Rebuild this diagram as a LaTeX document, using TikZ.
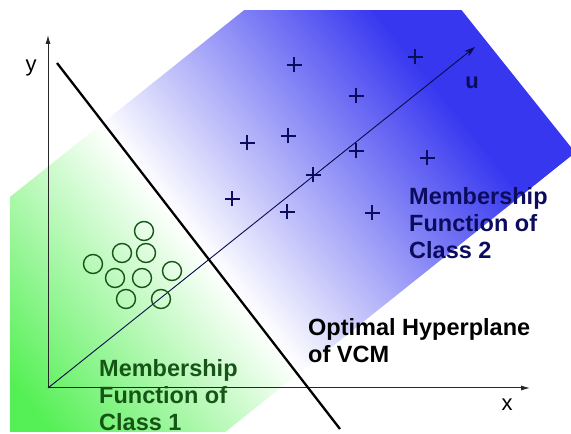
\documentclass[tikz,border=0pt]{standalone}
\usepackage{fontspec}
\setsansfont{Liberation Sans}
\usetikzlibrary{arrows.meta}
\definecolor{leafgreen}{RGB}{85,240,85}
\definecolor{deepblue}{RGB}{55,55,240}
\definecolor{navy}{RGB}{12,12,95}
\definecolor{forest}{RGB}{22,85,22}

\begin{document}
\begin{tikzpicture}[x=1pt,y=1pt,font=\sffamily,>={Latex[length=9pt,width=5pt]},
  axis/.style={->,line width=1pt,draw=black!85},
  axislabel/.style={font=\sffamily\fontsize{22}{26}\selectfont,inner sep=0pt},
  caption/.style={anchor=north west,align=left,inner sep=0pt,
    font=\sffamily\bfseries\fontsize{23.5}{27}\selectfont},
  ring/.style={line width=1.4pt,draw=forest},
  cross/.style={line width=1.3pt,draw=navy}]
  \useasboundingbox (0,0) rectangle (571,434);

  % Membership band, green -> white -> blue along u
  \begin{scope}
    \clip (10,2) rectangle (571,423);
    \begin{scope}[transform canvas={shift={(48,46)},rotate=38.6}]
      \fill[leafgreen] (-90,-145) rectangle (-24,173);
      \shade[left color=leafgreen,right color=white]
        (-25,-145) rectangle (207,173);
      \shade[left color=white,right color=deepblue]
        (206,-145) rectangle (491,173);
      \fill[deepblue] (490,-145) rectangle (559,173);
    \end{scope}
  \end{scope}

  % Axes
  \coordinate (O) at (48,46);
  \coordinate (xend) at (530,46);
  \coordinate (yend) at (48,399);
  \coordinate (uend) at (475,387);
  \draw[axis] (O) -- (xend);
  \draw[axis] (O) -- (yend);
  \draw[->,line width=0.9pt,draw=navy!80!black,
        >={Stealth[length=11pt,width=7pt]}] (O) -- (uend);
  \node[axislabel] (ylab) at (31,366) {y};
  \node[axislabel] (xlab) at (507,29) {x};
  \node[axislabel,font=\sffamily\bfseries\fontsize{22}{26}\selectfont,
        text=navy] (ulab) at (472,351) {u};

  % Optimal hyperplane
  \coordinate (htop) at (57,371);
  \coordinate (hbot) at (340,5);
  \draw[line width=2.3pt] (htop) -- (hbot);

  % Class 2 samples
  \foreach \x/\y in {294/369,415/377,356/338,247/291,288/298,356/283,
                     427/276,313/259,232/235,287/222,372/221}{
    \draw[cross] (\x-7.5,\y) -- (\x+7.5,\y) (\x,\y-7.5) -- (\x,\y+7.5);
  }

  % Class 1 samples
  \foreach \x/\y in {144/203,122/181,146/181,93/170,115/156,142/156,
                     172/163,126/135,161/135}{
    \draw[ring] (\x,\y) circle (9.5);
  }

  \node[caption,text=navy] (classtwo) at (409,247)
    {Membership\\Function of\\Class 2};
  \node[caption,text=forest] (classone) at (99,75)
    {Membership\\Function of\\Class 1};
  \node[caption,text=black] (hyper) at (308,116)
    {Optimal Hyperplane\\of VCM};
\end{tikzpicture}
\end{document}
